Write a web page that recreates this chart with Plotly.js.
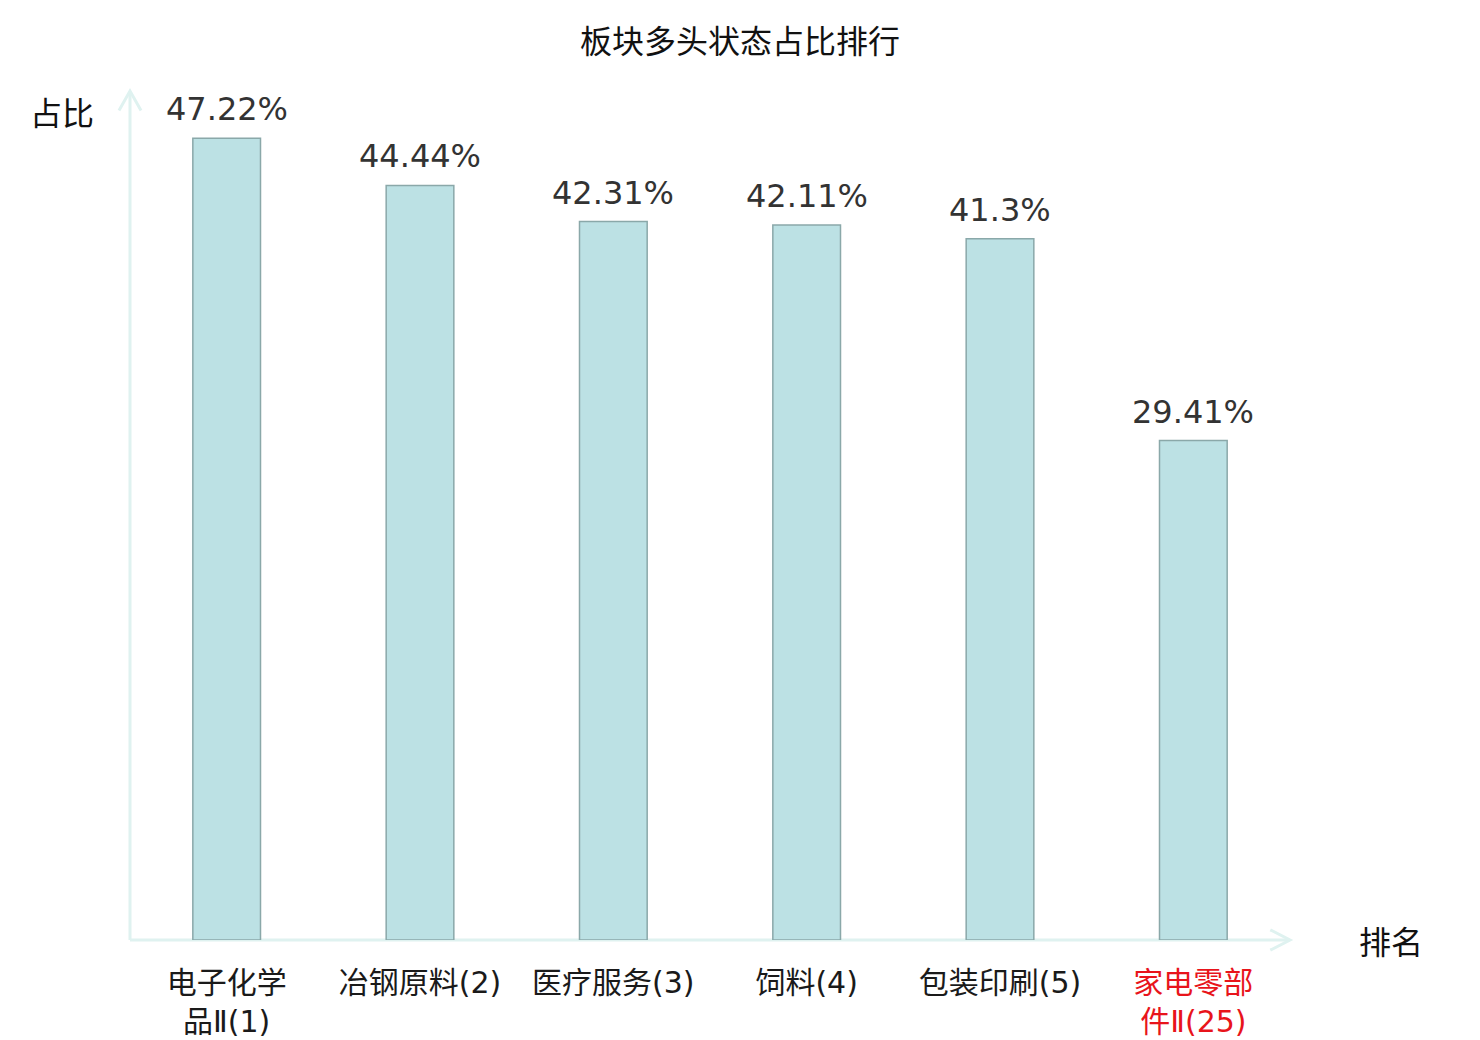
<!DOCTYPE html>
<html>
<head>
<meta charset="utf-8">
<script src="https://cdn.plot.ly/plotly-3.0.1.min.js"></script>
<style>
  html, body { margin: 0; padding: 0; background: #fff; }
  #chart { width: 1480px; height: 1040px; }
</style>
</head>
<body>
<div id="chart"></div>
<script>
// 板块多头状态占比排行
var sectors = ['电子化学品Ⅱ', '冶钢原料', '医疗服务', '饲料', '包装印刷', '家电零部件Ⅱ'];
var tickLabels = ['电子化学<br>品Ⅱ(1)', '冶钢原料(2)', '医疗服务(3)', '饲料(4)', '包装印刷(5)', '家电零部<br>件Ⅱ(25)'];
var ratios = [47.22, 44.44, 42.31, 42.11, 41.3, 29.41];
var valueLabels = ['47.22%', '44.44%', '42.31%', '42.11%', '41.3%', '29.41%'];
var highlight = 5; // the sector being looked at, shown in red

var axisColor = '#dff2f0';
var cjk = '"Noto Sans CJK SC", "DejaVu Sans", sans-serif';
var num = '"DejaVu Sans", "Noto Sans CJK SC", sans-serif';

var ticks = tickLabels.map(function(t, i) {
  return i === highlight ? '<span style="color:#e8141b">' + t + '</span>' : t;
});

var trace = {
  type: 'bar',
  x: sectors,
  y: ratios,
  marker: { color: '#bce1e4', line: { color: '#8aa8a9', width: 1.5 } },
  hoverinfo: 'none'
};

var notes = sectors.map(function(s, i) {
  return {
    x: s, y: ratios[i], xref: 'x', yref: 'y',
    text: valueLabels[i], showarrow: false,
    yanchor: 'bottom', yshift: 8,
    font: { family: num, size: 32, color: '#333333' }
  };
});

notes.push({
  xref: 'paper', yref: 'paper', x: -0.0586, y: 0.977, xanchor: 'center', yanchor: 'middle',
  text: '占比', showarrow: false, font: { family: cjk, size: 32, color: '#111' }
});
notes.push({
  xref: 'paper', yref: 'paper', x: 1.087, y: 0, xanchor: 'center', yanchor: 'middle',
  text: '排名', showarrow: false, font: { family: cjk, size: 32, color: '#111' }
});

var layout = {
  width: 1480,
  height: 1040,
  margin: { l: 130, r: 190, t: 91, b: 100 },
  paper_bgcolor: '#fff',
  plot_bgcolor: '#fff',
  showlegend: false,
  bargap: 0.65,
  title: {
    text: '板块多头状态占比排行',
    x: 0.5, xanchor: 'center', y: 0.96, yanchor: 'middle',
    font: { family: cjk, size: 32, color: '#111' }
  },
  xaxis: {
    tickmode: 'array',
    tickvals: sectors,
    ticktext: ticks,
    showline: false,
    showgrid: false,
    zeroline: false,
    ticks: '',
    ticklabelstandoff: 22,
    tickfont: { family: num, size: 30, color: '#1a1a1a' }
  },
  yaxis: {
    range: [0, 50],
    showline: false,
    showgrid: false,
    zeroline: false,
    showticklabels: false,
    ticks: ''
  },
  annotations: notes,
  shapes: [
    // x axis with arrow
    { type: 'line', xref: 'paper', yref: 'paper', x0: 0, x1: 1, y0: 0, y1: 0,
      line: { color: axisColor, width: 3 }, layer: 'below' },
    { type: 'path', xref: 'paper', yref: 'paper',
      path: 'M 0.983 0.012 L 1 0 L 0.983 -0.012',
      line: { color: axisColor, width: 3 } },
    // y axis with arrow
    { type: 'line', xref: 'paper', yref: 'paper', x0: 0, x1: 0, y0: 0, y1: 1,
      line: { color: axisColor, width: 3 }, layer: 'below' },
    { type: 'path', xref: 'paper', yref: 'paper',
      path: 'M -0.0095 0.977 L 0 1 L 0.0095 0.977',
      line: { color: axisColor, width: 3 } }
  ]
};

Plotly.newPlot('chart', [trace], layout, { staticPlot: true });
</script>
</body>
</html>
